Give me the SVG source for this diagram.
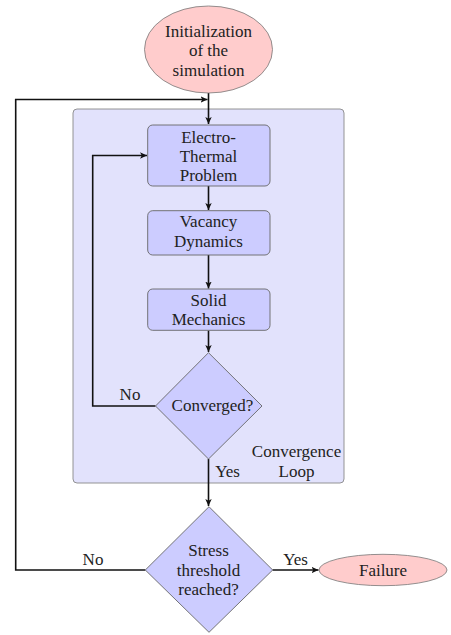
<svg xmlns="http://www.w3.org/2000/svg" width="451" height="635" viewBox="0 0 451 635">
<style>
.t{font-size:17px;fill:#222;text-anchor:middle;dominant-baseline:central}
.term{fill:#ffcccc;stroke:#777;stroke-width:0.8}
.proc{fill:#ccccff;stroke:#666;stroke-width:0.9}
.cont{fill:#e2e2fc;stroke:#888;stroke-width:0.9}
.c{fill:none;stroke:#111;stroke-width:1.6}
</style>
<defs>
<marker id="ah" markerWidth="8" markerHeight="8" refX="7" refY="4" orient="auto" markerUnits="userSpaceOnUse">
<path d="M0,0.8 L7,4 L0,7.2 L1.8,4 Z" fill="#111"/>
</marker>
</defs>
<g font-family="Liberation Serif, Times New Roman, DejaVu Serif, serif">
<g id="convergence-loop">
<rect class="cont" x="73" y="109" width="271" height="374" rx="4"/>
<text class="t" x="296.5" y="451.5">Convergence</text>
<text class="t" x="296.5" y="471">Loop</text>
</g>
<g id="connectors">
<path class="c" d="M208.5,93 V124" marker-end="url(#ah)"/>
<path class="c" d="M208.5,186 V210" marker-end="url(#ah)"/>
<path class="c" d="M208.5,255 V288.5" marker-end="url(#ah)"/>
<path class="c" d="M208.5,330.5 V352" marker-end="url(#ah)"/>
<path class="c" d="M155.5,406 H92.7 V155.5 H147" marker-end="url(#ah)"/>
<path class="c" d="M208.5,459 V506" marker-end="url(#ah)"/>
<path class="c" d="M272.5,570 H318.5" marker-end="url(#ah)"/>
<path class="c" d="M145.5,570 H15.7 V99.5 H207.5" marker-end="url(#ah)"/>
<text class="t" x="130" y="394">No</text>
<text class="t" x="227.5" y="471.5">Yes</text>
<text class="t" x="93" y="559">No</text>
<text class="t" x="295.5" y="559">Yes</text>
</g>
<g id="init">
<ellipse class="term" cx="208.5" cy="49.5" rx="64" ry="43.5"/>
<text class="t" x="208.5" y="31">Initialization</text>
<text class="t" x="208.5" y="50.5">of the</text>
<text class="t" x="208.5" y="70">simulation</text>
</g>
<g id="electro-thermal">
<rect class="proc" x="147.7" y="125" width="122.3" height="61" rx="5"/>
<text class="t" x="208.5" y="137">Electro-</text>
<text class="t" x="208.5" y="156">Thermal</text>
<text class="t" x="208.5" y="175">Problem</text>
</g>
<g id="vacancy">
<rect class="proc" x="147.7" y="210.7" width="122.3" height="44.3" rx="5"/>
<text class="t" x="208.5" y="221.5">Vacancy</text>
<text class="t" x="208.5" y="241.5">Dynamics</text>
</g>
<g id="solid">
<rect class="proc" x="147.7" y="289" width="122.3" height="41.3" rx="5"/>
<text class="t" x="208.5" y="300">Solid</text>
<text class="t" x="208.5" y="319.5">Mechanics</text>
</g>
<g id="converged">
<polygon class="proc" points="208.5,352.7 262,406 208.5,459 155.5,406"/>
<text class="t" x="212.5" y="405.5">Converged?</text>
</g>
<g id="stress">
<polygon class="proc" points="209,506.7 272.7,570 209,632.3 145.3,570"/>
<text class="t" x="208.5" y="550">Stress</text>
<text class="t" x="208.5" y="570">threshold</text>
<text class="t" x="208.5" y="589.5">reached?</text>
</g>
<g id="failure">
<ellipse class="term" cx="383" cy="570" rx="64" ry="15.7"/>
<text class="t" x="383" y="570">Failure</text>
</g>
</g>
</svg>
